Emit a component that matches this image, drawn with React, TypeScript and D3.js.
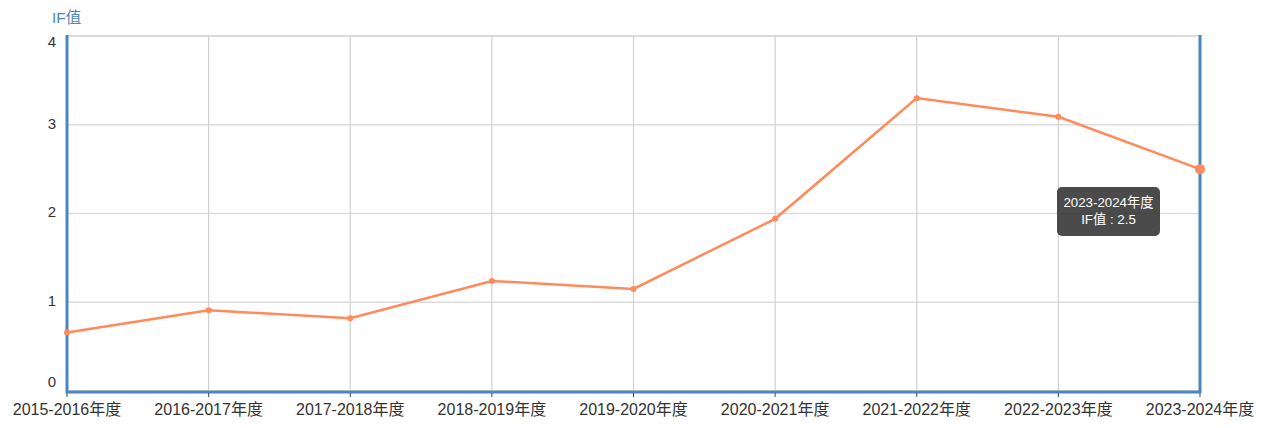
import React from "react";
import * as d3 from "d3";

const categories = [
  "2015-2016年度",
  "2016-2017年度",
  "2017-2018年度",
  "2018-2019年度",
  "2019-2020年度",
  "2020-2021年度",
  "2021-2022年度",
  "2022-2023年度",
  "2023-2024年度",
];
const ifValues = [0.66, 0.91, 0.82, 1.24, 1.15, 1.94, 3.3, 3.09, 2.5];
const yTicks = [0, 1, 2, 3, 4];
const seriesName = "IF值";

const W = 1278;
const H = 428;
const FONT = "'Liberation Sans', Arial, 'Noto Sans CJK SC', sans-serif";

export default function App() {
  const left = 67;
  const right = 1200;
  const top = 36;
  const bottom = 391;
  const x = d3
    .scalePoint<string>()
    .domain(categories)
    .range([left, right]);
  const y = d3.scaleLinear().domain([0, 4]).range([bottom, top]);
  const line = d3
    .line<number>()
    .x((_, i) => x(categories[i]) as number)
    .y((d) => y(d));

  const lastIdx = categories.length - 1;
  const tx = 1057;
  const ty = 187;

  return (
    <svg
      width={W}
      height={H}
      style={{ position: "absolute", left: 0, top: 0, fontFamily: FONT }}
    >
      {yTicks.map((t) => (
        <line
          key={"h" + t}
          x1={left}
          x2={right}
          y1={y(t)}
          y2={y(t)}
          stroke="#dcdcdc"
          strokeWidth={t === 4 ? 2 : 1.5}
        />
      ))}
      {categories.map((c) => (
        <line
          key={"v" + c}
          x1={x(c)}
          x2={x(c)}
          y1={top}
          y2={bottom}
          stroke="#d0d0d0"
          strokeWidth={1.2}
        />
      ))}
      <line x1={left} x2={left} y1={top - 1} y2={bottom + 2} stroke="#4a86bf" strokeWidth={3} />
      <line x1={right} x2={right} y1={top - 1} y2={bottom + 2} stroke="#4a86bf" strokeWidth={3} />
      <line x1={left - 1} x2={right + 1} y1={bottom + 1} y2={bottom + 1} stroke="#4a86bf" strokeWidth={3} />
      {categories.map((c) => (
        <line
          key={"t" + c}
          x1={x(c)}
          x2={x(c)}
          y1={bottom + 2}
          y2={bottom + 6}
          stroke="#444"
          strokeWidth={1}
        />
      ))}
      {yTicks.map((t) => (
        <text
          key={"yl" + t}
          x={56}
          y={t === 4 ? y(t) + 7 : t === 0 ? y(t) - 8 : y(t)}
          textAnchor="end"
          dominantBaseline="middle"
          fontSize={15}
          fill="#333"
        >
          {t}
        </text>
      ))}
      {categories.map((c) => (
        <text
          key={"xl" + c}
          x={x(c)}
          y={411}
          textAnchor="middle"
          dominantBaseline="middle"
          fontSize={16}
          fill="#333"
        >
          {c}
        </text>
      ))}
      <text x={52} y={19} dominantBaseline="middle" fontSize={15.5} fill="#4a86bf">
        {seriesName}
      </text>
      <path d={line(ifValues) || ""} fill="none" stroke="#ff8a5b" strokeWidth={2.5} />
      {ifValues.map((v, i) => (
        <circle
          key={"p" + i}
          cx={x(categories[i])}
          cy={y(v)}
          r={i === lastIdx ? 5 : 3}
          fill="#ff8a5b"
        />
      ))}
      <rect x={tx} y={ty} width={103} height={49} rx={5} fill="rgba(50,50,50,0.88)" />
      <text x={tx + 51.5} y={ty + 16} textAnchor="middle" dominantBaseline="middle" fontSize={13.3} fill="#fff">
        {categories[lastIdx]}
      </text>
      <text x={tx + 51.5} y={ty + 33} textAnchor="middle" dominantBaseline="middle" fontSize={13.3} fill="#fff">
        {seriesName + " : " + ifValues[lastIdx]}
      </text>
    </svg>
  );
}
